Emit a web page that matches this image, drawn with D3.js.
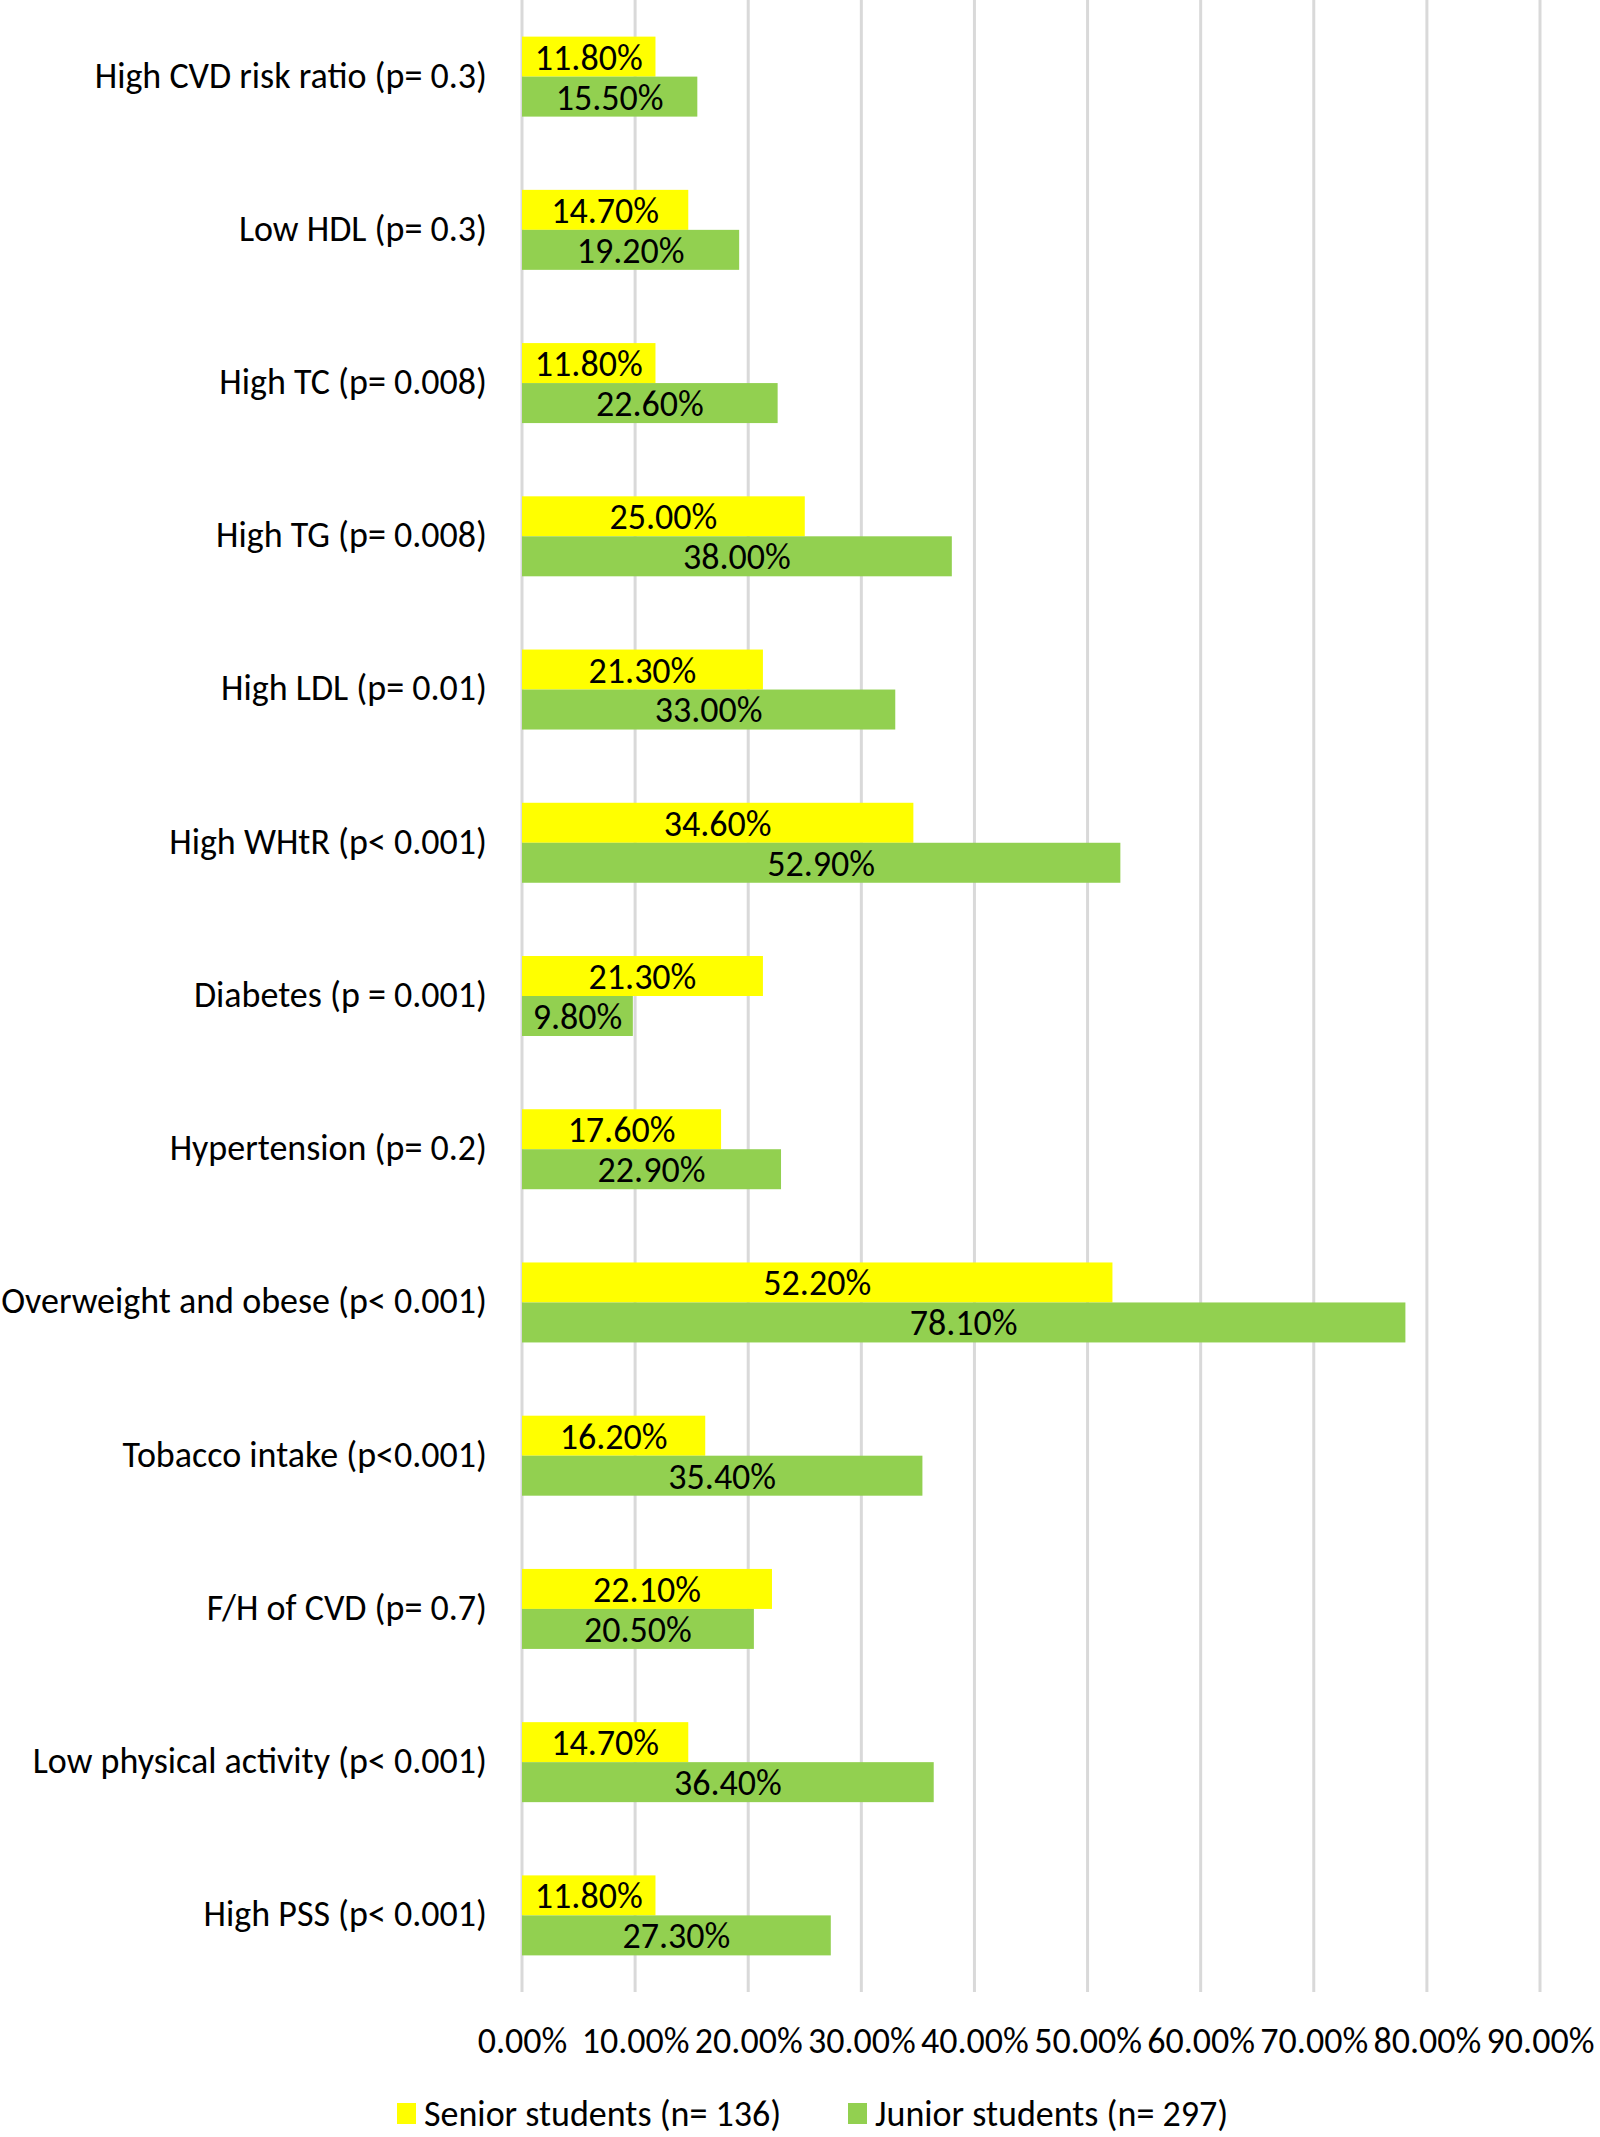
<!DOCTYPE html>
<html>
<head>
<meta charset="utf-8">
<script src="https://cdn.jsdelivr.net/npm/d3@7"></script>
<style>
  html, body { margin: 0; padding: 0; background: #ffffff; }
  svg { display: block; }
  text { font-family: Carlito, Calibri, Lato, "Open Sans", sans-serif; fill: #000; }
</style>
</head>
<body>
<svg id="chart" width="1600" height="2137"></svg>
<script>
const categories = [
  "High CVD risk ratio (p= 0.3)",
  "Low HDL (p= 0.3)",
  "High TC (p= 0.008)",
  "High TG (p= 0.008)",
  "High LDL (p= 0.01)",
  "High WHtR (p< 0.001)",
  "Diabetes (p = 0.001)",
  "Hypertension (p= 0.2)",
  "Overweight and obese (p< 0.001)",
  "Tobacco intake (p<0.001)",
  "F/H of CVD (p= 0.7)",
  "Low physical activity (p< 0.001)",
  "High PSS (p< 0.001)"
];
const seniorValues = [11.8, 14.7, 11.8, 25.0, 21.3, 34.6, 21.3, 17.6, 52.2, 16.2, 22.1, 14.7, 11.8];
const juniorValues = [15.5, 19.2, 22.6, 38.0, 33.0, 52.9, 9.8, 22.9, 78.1, 35.4, 20.5, 36.4, 27.3];
const seriesNames = ["Senior students (n= 136)", "Junior students (n= 297)"];
const seriesColors = ["#FFFF00", "#92D050"];
const tickValues = [0, 10, 20, 30, 40, 50, 60, 70, 80, 90];

const svg = d3.select("#chart");
const plot = { left: 522, right: 1540, top: 0, bottom: 1992 };

const x = d3.scaleLinear().domain([0, 90]).range([plot.left, plot.right]);
const y = d3.scaleBand().domain(categories).range([plot.top, plot.bottom])
  .paddingInner(0.478).paddingOuter(0.239);
const ySub = d3.scaleBand().domain([0, 1]).range([0, y.bandwidth()]).padding(0);

const rows = categories.map((c, i) => ({ cat: c, vals: [seniorValues[i], juniorValues[i]] }));

// gridlines
svg.append("g").selectAll("line").data(tickValues).join("line")
  .attr("x1", d => x(d)).attr("x2", d => x(d))
  .attr("y1", plot.top).attr("y2", plot.bottom)
  .attr("stroke", "#D9D9D9").attr("stroke-width", 3);

// bars
const groups = svg.append("g").selectAll("g").data(rows).join("g")
  .attr("transform", d => `translate(0,${y(d.cat)})`);
groups.selectAll("rect").data(d => d.vals.map((v, k) => ({ v, k }))).join("rect")
  .attr("x", x(0))
  .attr("y", d => ySub(d.k))
  .attr("width", d => x(d.v) - x(0))
  .attr("height", ySub.bandwidth())
  .attr("fill", d => seriesColors[d.k]);
groups.selectAll("text.val").data(d => d.vals.map((v, k) => ({ v, k }))).join("text")
  .attr("class", "val")
  .attr("x", d => (x(d.v) + x(0)) / 2)
  .attr("y", d => ySub(d.k) + ySub.bandwidth() / 2)
  .attr("dy", "0.36em")
  .attr("text-anchor", "middle")
  .style("font-size", "36px")
  .text(d => d.v.toFixed(2) + "%");

// category axis labels
svg.append("g").selectAll("text").data(categories).join("text")
  .attr("x", 487)
  .attr("y", d => y(d) + y.bandwidth() / 2 - 2)
  .attr("dy", "0.36em")
  .attr("text-anchor", "end")
  .style("font-size", "36px")
  .text(d => d);

// x axis tick labels
const xAxis = d3.axisBottom(x).tickValues(tickValues).tickSize(0).tickFormat(d => d.toFixed(2) + "%");
const gx = svg.append("g").attr("transform", `translate(0,${2024})`).call(xAxis);
gx.select(".domain").remove();
gx.selectAll("text").style("font-size", "36px").style("font-family", null).attr("fill", "#000");

// legend
const legend = svg.append("g");
const legendX = [397, 848];
seriesNames.forEach((name, k) => {
  legend.append("rect").attr("x", legendX[k]).attr("y", 2103).attr("width", 19).attr("height", 21).attr("fill", seriesColors[k]);
  legend.append("text").attr("x", legendX[k] + 27).attr("y", 2113).attr("dy", "0.36em")
    .style("font-size", "36px").text(name);
});
</script>
</body>
</html>
